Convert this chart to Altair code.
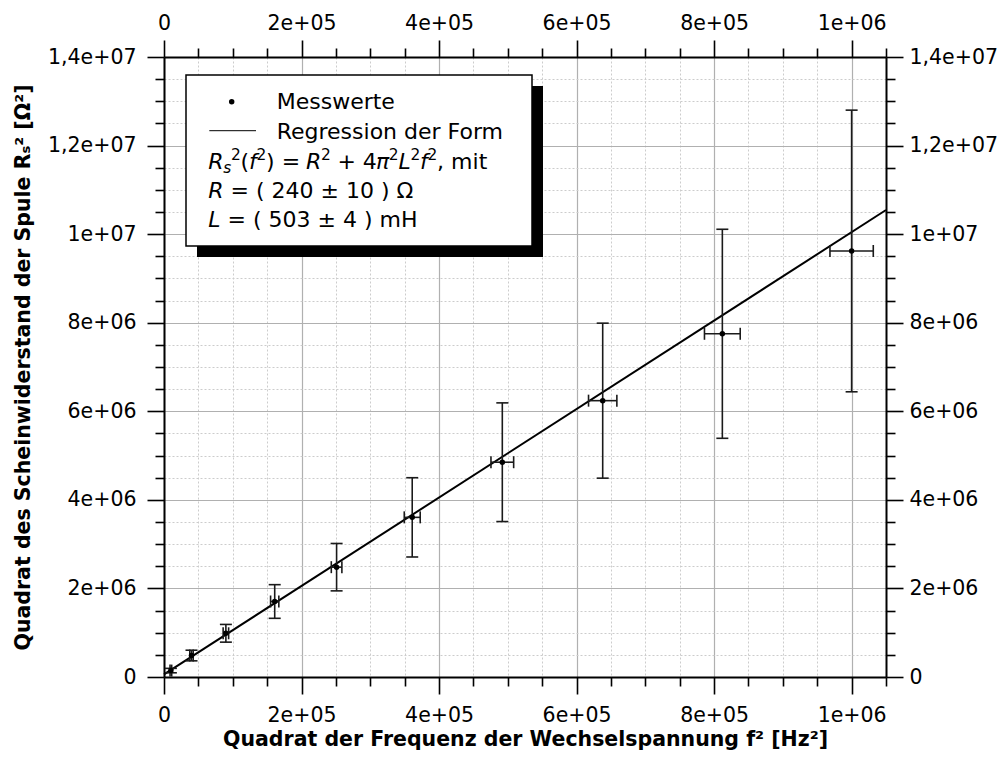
import altair as alt
import pandas as pd

f2 = [1.0e4, 4.0e4, 9.0e4, 1.61e5, 2.51e5, 3.61e5, 4.92e5, 6.38e5, 8.12e5, 1.0e6]
f2_err = [1.2e3, 2.5e3, 4.0e3, 6.0e3, 7.7e3, 1.16e4, 1.65e4, 2.06e4, 2.6e4, 3.15e4]
rs2 = [1.45e5, 4.85e5, 9.87e5, 1.705e6, 2.48e6, 3.605e6, 4.85e6, 6.24e6, 7.75e6, 9.62e6]
rs2_err = [5.0e4, 1.2e5, 2.0e5, 3.8e5, 5.35e5, 8.95e5, 1.34e6, 1.75e6, 2.36e6, 3.18e6]

# regression line end points
fit_x = [0.0, 1.05e6]
fit_y = [5.76e4, 1.0545e7]

# ---- ticks ----
x_major = [0, 200000, 400000, 600000, 800000, 1000000]
x_major_labels = ["0", "2e+05", "4e+05", "6e+05", "8e+05", "1e+06"]
x_minor = [50000, 100000, 150000, 250000, 300000, 350000, 450000, 500000, 550000,
           650000, 700000, 750000, 850000, 900000, 950000, 1050000]
y_major = [0, 2e6, 4e6, 6e6, 8e6, 1e7, 1.2e7, 1.4e7]
y_major_labels = ["0", "2e+06", "4e+06", "6e+06", "8e+06", "1e+07", "1,2e+07", "1,4e+07"]
y_minor = [5e5, 1e6, 1.5e6, 2.5e6, 3e6, 3.5e6, 4.5e6, 5e6, 5.5e6, 6.5e6, 7e6, 7.5e6,
           8.5e6, 9e6, 9.5e6, 1.05e7, 1.1e7, 1.15e7, 1.25e7, 1.3e7, 1.35e7]

df = pd.DataFrame({"f2": f2, "f2_err": f2_err, "rs2": rs2, "rs2_err": rs2_err})
df["x_lo"] = df.f2 - df.f2_err
df["x_hi"] = df.f2 + df.f2_err
df["y_lo"] = df.rs2 - df.rs2_err
df["y_hi"] = df.rs2 + df.rs2_err
fit = pd.DataFrame({"f2": fit_x, "rs2": fit_y})

FONT = "DejaVu Sans"
xs = alt.Scale(domain=[0, 1.05e6], nice=False, zero=False)
ys = alt.Scale(domain=[0, 1.4e7], nice=False, zero=False)

xexpr = "[" + ",".join("'%s'" % s for s in x_major_labels) + "][round(datum.value/200000)]"
yexpr = "[" + ",".join("'%s'" % s for s in y_major_labels) + "][round(datum.value/2000000)]"

TICKW = 1.6
MAJ = 17
MIN = 9
LFS = 20.5


def major_axis(orient, values, expr, pad, grid, title=None, extra=None):
    kw = dict(orient=orient, values=values, labelExpr=expr, tickSize=MAJ, tickWidth=TICKW,
              tickColor="black", domain=True, domainColor="black", domainWidth=2,
              grid=grid, labelFont=FONT, labelFontSize=LFS, labelColor="black",
              labelPadding=pad, labelFlush=False, labelOverlap=False)
    if grid:
        kw.update(gridColor="#b0b0b0", gridWidth=1.2)
    if title is not None:
        kw.update(title=title, titleFont=FONT, titleFontSize=20.5, titleFontWeight="bold",
                  titleColor="black")
        kw.update(extra or {})
    return alt.Axis(**kw)


def minor_axis(orient, values, grid):
    kw = dict(orient=orient, values=values, tickSize=MIN, tickWidth=TICKW, tickColor="black",
              domain=False, labels=False, grid=grid)
    if grid:
        kw.update(gridColor="#cccccc", gridDash=[2, 2], gridWidth=1)
    return alt.Axis(**kw)


def axis_layer(xaxis, yaxis, xtitle=None, ytitle=None):
    return alt.Chart(df).mark_point(opacity=0).encode(
        x=alt.X("f2:Q", scale=xs, axis=xaxis, title=xtitle),
        y=alt.Y("rs2:Q", scale=ys, axis=yaxis, title=ytitle),
    )


xtitle = "Quadrat der Frequenz der Wechselspannung f² [Hz²]"
ytitle = "Quadrat des Scheinwiderstand der Spule Rₛ² [Ω²]"

l_minor_bl = axis_layer(minor_axis("bottom", x_minor, True), minor_axis("left", y_minor, True))
l_major_bl = axis_layer(
    major_axis("bottom", x_major, xexpr, 11, True, xtitle,
               {"titleBaseline": "alphabetic", "titleY": 68}),
    major_axis("left", y_major, yexpr, 11, True, ytitle, {"titlePadding": 14}),
    xtitle, ytitle)
l_minor_tr = axis_layer(minor_axis("top", x_minor, False), minor_axis("right", y_minor, False))
l_major_tr = axis_layer(major_axis("top", x_major, xexpr, 7, False),
                        major_axis("right", y_major, yexpr, 6, False))

X = lambda f: alt.X(f, scale=xs, axis=None)
Y = lambda f: alt.Y(f, scale=ys, axis=None)

line = alt.Chart(fit).mark_line(color="black", strokeWidth=2).encode(x=X("f2:Q"), y=Y("rs2:Q"))

ecol = "#1a1a1a"
vbar = alt.Chart(df).mark_rule(color=ecol, strokeWidth=1.6).encode(
    x=X("f2:Q"), y=Y("y_lo:Q"), y2="y_hi:Q")
hbar = alt.Chart(df).mark_rule(color=ecol, strokeWidth=1.6).encode(
    y=Y("rs2:Q"), x=X("x_lo:Q"), x2="x_hi:Q")
cap_top = alt.Chart(df).mark_tick(orient="horizontal", size=12, thickness=1.6, color=ecol, opacity=1).encode(
    x=X("f2:Q"), y=Y("y_hi:Q"))
cap_bot = alt.Chart(df).mark_tick(orient="horizontal", size=12, thickness=1.6, color=ecol, opacity=1).encode(
    x=X("f2:Q"), y=Y("y_lo:Q"))
cap_l = alt.Chart(df).mark_tick(orient="vertical", size=12, thickness=1.6, color=ecol, opacity=1).encode(
    x=X("x_lo:Q"), y=Y("rs2:Q"))
cap_r = alt.Chart(df).mark_tick(orient="vertical", size=12, thickness=1.6, color=ecol, opacity=1).encode(
    x=X("x_hi:Q"), y=Y("rs2:Q"))
pts = alt.Chart(df).mark_circle(color="black", size=30, opacity=1).encode(x=X("f2:Q"), y=Y("rs2:Q"))

# ---- legend box (annotation, pixel positions inside the plot area) ----
one = alt.Data(values=[{"k": 1}])
shadow = alt.Chart(one).mark_rect(color="black").encode(
    x=alt.value(33), x2=alt.value(379), y=alt.value(29), y2=alt.value(200))
box = alt.Chart(one).mark_rect(fill="white", stroke="black", strokeWidth=1.5).encode(
    x=alt.value(22), x2=alt.value(368), y=alt.value(18), y2=alt.value(189))
leg_dot = alt.Chart(one).mark_circle(color="black", size=30, opacity=1).encode(
    x=alt.value(67.7), y=alt.value(44.7))
leg_line = alt.Chart(one).mark_rule(color="black", strokeWidth=1).encode(
    x=alt.value(45.3), x2=alt.value(92), y=alt.value(73.7))


def txt(s, x, y, size=22, italic=False):
    return alt.Chart(one).mark_text(
        text=s, font=FONT, fontSize=size, fontStyle="italic" if italic else "normal",
        align="left", baseline="alphabetic", color="black"
    ).encode(x=alt.value(x), y=alt.value(y))


B1, B2, B3, B4, B5 = 52, 82, 112, 141.3, 170.3
SS = 15.4
UP = 9
texts = [
    txt("Messwerte", 112.7, B1),
    txt("Regression der Form", 112.7, B2),
    # R_s^2(f^2) = R^2 + 4 pi^2 L^2 f^2, mit
    txt("R", 44.3, B3, italic=True),
    txt("s", 59.2, B3 + 3.5, SS, italic=True),
    txt("2", 67.0, B3 - UP, SS),
    txt("(", 76.6, B3),
    txt("f", 85.0, B3, italic=True),
    txt("2", 92.5, B3 - UP, SS),
    txt(") =", 102.1, B3),
    txt("R", 142.1, B3, italic=True),
    txt("2", 157.0, B3 - UP, SS),
    txt("+ 4", 173.4, B3),
    txt("π", 211.9, B3, italic=True),
    txt("2", 224.8, B3 - UP, SS),
    txt("L", 234.4, B3, italic=True),
    txt("2", 246.4, B3 - UP, SS),
    txt("f", 256.0, B3, italic=True),
    txt("2", 263.5, B3 - UP, SS),
    txt(", mit", 273.1, B3),
    txt("R", 44.3, B4, italic=True),
    txt("= ( 240 ± 10 ) Ω", 66.6, B4),
    txt("L", 44.3, B5, italic=True),
    txt("= ( 503 ± 4 ) mH", 63.6, B5),
]

chart = alt.layer(
    l_minor_bl, l_major_bl, l_minor_tr, l_major_tr,
    line, vbar, hbar, cap_top, cap_bot, cap_l, cap_r, pts,
    shadow, box, leg_dot, leg_line, *texts
).resolve_axis(x="independent", y="independent").properties(
    width=722, height=620,
    padding={"left": 156, "top": 49, "right": 113, "bottom": 73},
    autosize=alt.AutoSizeParams(type="none"),
).configure_view(stroke=None)

chart.save("out.html", embed_options={"renderer": "svg", "actions": False})
